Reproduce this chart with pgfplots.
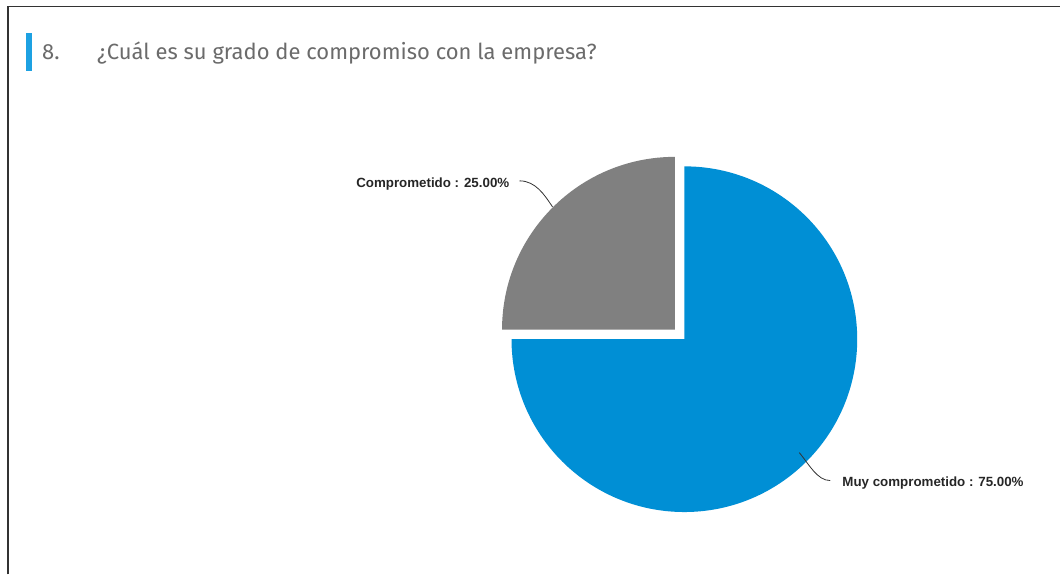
\documentclass[border=0pt]{standalone}
\usepackage{fontspec}
\setmainfont{Liberation Sans}
\newfontfamily\titlefont{Fira Sans}
\usepackage{pgfplots}
\usepackage{pgfplotstable}
\pgfplotsset{compat=1.18}

\definecolor{pieblue}{HTML}{008FD5}
\definecolor{piegray}{HTML}{808080}
\definecolor{barblue}{HTML}{1DA1E2}
\definecolor{titlegray}{HTML}{6B6B6B}
\definecolor{framegray}{HTML}{333333}

% pie data (percent)
\pgfplotstableread{
label value
Muy 75
Comprometido 25
}\piedata

\begin{document}
\begin{tikzpicture}
\pgfplotstablegetelem{0}{value}\of\piedata \let\va\pgfplotsretval
\pgfplotstablegetelem{1}{value}\of\piedata \let\vb\pgfplotsretval
\pgfmathsetmacro\angA{360*(\va/(\va+\vb))}
\pgfmathsetmacro\angB{360*(\vb/(\va+\vb))}
\begin{axis}[
    scale only axis,
    width=795.75pt, height=431.25pt,
    xmin=0, xmax=1061, ymin=0, ymax=575,
    y dir=reverse,
    hide axis, clip=false,
]
\fill[white] (axis cs:0,0) rectangle (axis cs:1061,575);
% frame
\draw[framegray, line width=1.5pt] (axis cs:8.5,575) -- (axis cs:8.5,6.5) -- (axis cs:1061,6.5);

% title
\fill[barblue] (axis cs:26,33) rectangle (axis cs:32,71);
\node[anchor=base west, inner sep=0pt, text=titlegray, font=\titlefont\fontsize{16.5}{19}\selectfont]
    at (axis cs:42,60) {8.};
\node[anchor=base west, inner sep=0pt, text=titlegray, font=\titlefont\fontsize{16.5}{19}\selectfont]
    at (axis cs:97,60) {¿Cuál es su grado de compromiso con la empresa?};

% slices
\fill[pieblue] (axis cs:685,339.5) -- ++(90:129.75pt)
    arc[start angle=90, delta angle=-\angA, radius=129.75pt] -- cycle;
\fill[piegray] (axis cs:675.5,330) -- ++(90:129.75pt)
    arc[start angle=90, delta angle=\angB, radius=129.75pt] -- cycle;

% leader lines
\draw[black!80, line width=0.6pt] (axis cs:520,181) .. controls (axis cs:536,181) and (axis cs:545,195) .. (axis cs:553,207);
\draw[black!80, line width=0.6pt] (axis cs:800,453) .. controls (axis cs:810,465) and (axis cs:818,481) .. (axis cs:831,481);

% labels
\node[anchor=east, inner sep=0pt, text=black!85, font=\fontsize{10}{12}\selectfont\bfseries]
    at (axis cs:510,184) {Comprometido : 25.00\%};
\node[anchor=west, inner sep=0pt, text=black!85, font=\fontsize{10}{12}\selectfont\bfseries]
    at (axis cs:843,483) {Muy comprometido : 75.00\%};
\end{axis}
\end{tikzpicture}
\end{document}
